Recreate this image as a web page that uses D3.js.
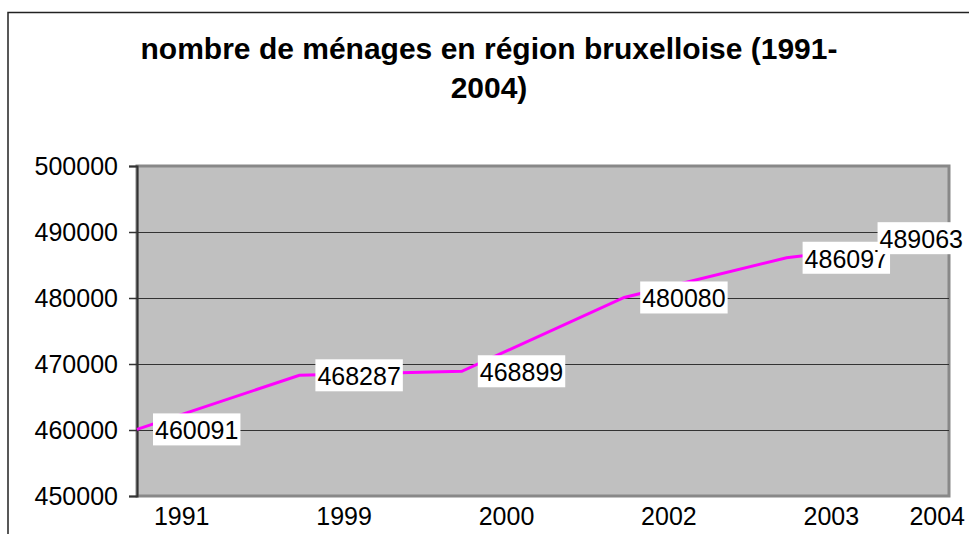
<!DOCTYPE html>
<html>
<head>
<meta charset="utf-8">
<script src="https://cdn.jsdelivr.net/npm/d3@7"></script>
<style>
  body { margin: 0; background: #fff; }
  svg { display: block; font-family: "Liberation Sans", Arial, sans-serif; }
</style>
</head>
<body>
<script>
const years = ["1991", "1999", "2000", "2002", "2003", "2004"];
const households = [460091, 468287, 468899, 480080, 486097, 489063];
const yTicks = [450000, 460000, 470000, 480000, 490000, 500000];
const titleLines = ["nombre de ménages en région bruxelloise (1991-", "2004)"];

const width = 969, height = 534;
const plot = { left: 137, right: 949, top: 166, bottom: 496 };

const svg = d3.select("body").append("svg")
    .attr("width", width)
    .attr("height", height);

// chart frame
svg.append("rect")
    .attr("x", 8).attr("y", 12.5)
    .attr("width", 1100).attr("height", 700)
    .attr("fill", "#fff")
    .attr("stroke", "#222")
    .attr("stroke-width", 1.5);

svg.append("g").selectAll("text").data(titleLines).join("text")
    .attr("x", 489)
    .attr("y", (d, i) => 58.5 + i * 39)
    .attr("text-anchor", "middle")
    .attr("font-size", 30)
    .attr("font-weight", "bold")
    .text(d => d);

const x = d3.scalePoint().domain(years).range([plot.left, plot.right]);
const y = d3.scaleLinear().domain([450000, 500000]).range([plot.bottom, plot.top]);

svg.append("rect")
    .attr("x", plot.left).attr("y", plot.top)
    .attr("width", plot.right - plot.left).attr("height", plot.bottom - plot.top)
    .attr("fill", "#c0c0c0")
    .attr("stroke", "#888")
    .attr("stroke-width", 3);

svg.append("g").selectAll("line").data(yTicks.slice(1, -1)).join("line")
    .attr("x1", plot.left).attr("x2", plot.right)
    .attr("y1", d => y(d) + 0.5).attr("y2", d => y(d) + 0.5)
    .attr("stroke", "#333")
    .attr("stroke-width", 1);

const yAxis = svg.append("g")
    .attr("transform", `translate(${plot.left},0)`)
    .call(d3.axisLeft(y).tickValues(yTicks).tickSize(8).tickPadding(11).tickFormat(d3.format("d")));
yAxis.select(".domain").attr("stroke", "#333").attr("stroke-width", 2);
yAxis.selectAll(".tick line").attr("stroke", "#333").attr("stroke-width", 1.5);
yAxis.selectAll(".tick text")
    .attr("font-size", 25)
    .attr("font-family", "Liberation Sans, Arial, sans-serif")
    .attr("fill", "#000");

// category labels sit to the right of their points, kept inside the frame
const labelShift = 44.7;
svg.append("g").selectAll("text").data(years).join("text")
    .attr("y", 525)
    .attr("font-size", 25)
    .attr("text-anchor", "middle")
    .text(d => d)
    .attr("x", function (d) {
        const w = this.getComputedTextLength();
        return Math.min(x(d) + labelShift, 965 - w / 2);
    });

const line = d3.line()
    .x((d, i) => x(years[i]))
    .y(d => y(d));

svg.append("path")
    .datum(households)
    .attr("d", line)
    .attr("fill", "none")
    .attr("stroke", "#ff00ff")
    .attr("stroke-width", 3);

// data labels with white boxes
const labels = svg.append("g").selectAll("g").data(households).join("g");
labels.each(function (d, i) {
    const g = d3.select(this);
    const t = g.append("text")
        .attr("font-size", 25)
        .attr("dominant-baseline", "central")
        .text(d);
    const w = t.node().getComputedTextLength();
    const bw = w + 4, bh = 32;
    const bx = Math.min(x(years[i]) + 16, 965 - bw);
    const by = y(d) - bh / 2;
    g.insert("rect", "text")
        .attr("x", bx).attr("y", by)
        .attr("width", bw).attr("height", bh)
        .attr("fill", "#fff");
    t.attr("x", bx + 2).attr("y", y(d) + 1);
});
</script>
</body>
</html>
